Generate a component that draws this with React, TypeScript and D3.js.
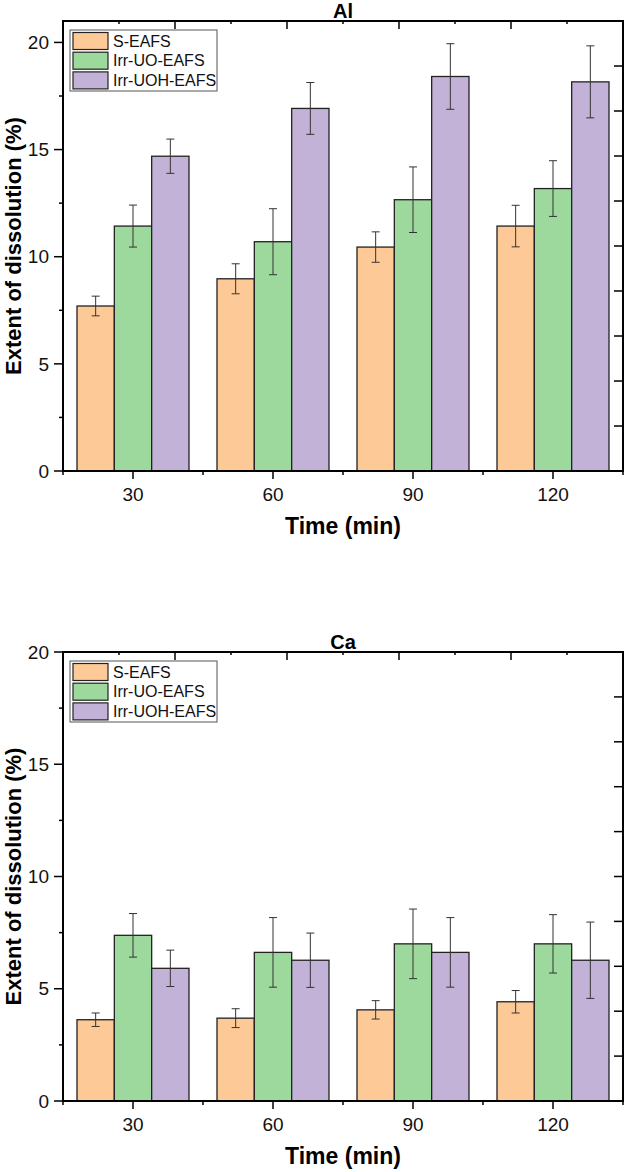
import { useEffect, useRef } from "react"
import * as d3 from "d3"

const times = ["30", "60", "90", "120"]
const seriesNames = ["S-EAFS", "Irr-UO-EAFS", "Irr-UOH-EAFS"]
const seriesColors = ["#fcc997", "#9dd89c", "#c2b2d7"]

// Al panel
const alS = [7.7, 8.97, 10.45, 11.43]
const alUO = [11.43, 10.7, 12.66, 13.18]
const alUOH = [14.69, 16.92, 18.41, 18.16]
const alSErr = [0.46, 0.7, 0.71, 0.97]
const alUOErr = [0.98, 1.54, 1.53, 1.3]
const alUOHErr = [0.8, 1.21, 1.53, 1.68]

// Ca panel
const caS = [3.62, 3.69, 4.06, 4.42]
const caUO = [7.38, 6.62, 7.0, 7.0]
const caUOH = [5.91, 6.27, 6.62, 6.27]
const caSErr = [0.3, 0.42, 0.41, 0.5]
const caUOErr = [0.97, 1.55, 1.55, 1.3]
const caUOHErr = [0.81, 1.21, 1.55, 1.7]

const majorY = [0, 5, 10, 15, 20]
const minorY = [2.5, 7.5, 12.5, 17.5]

const FONT = "Arial, 'Liberation Sans', sans-serif"

type Panel = {
  title: string
  top: number
  bottom: number
  yMax: number
  values: number[][]
  errors: number[][]
}

const panels: Panel[] = [
  { title: "Al", top: 21, bottom: 471, yMax: 21, values: [alS, alUO, alUOH], errors: [alSErr, alUOErr, alUOHErr] },
  { title: "Ca", top: 652, bottom: 1101, yMax: 20, values: [caS, caUO, caUOH], errors: [caSErr, caUOErr, caUOHErr] }
]

const left = 63
const right = 623

const App = () => {
  const svgRef = useRef<SVGSVGElement | null>(null)

  useEffect(() => {
    const svg = d3.select(svgRef.current)
    svg.selectAll("*").remove()

    panels.forEach(p => {
      const g = svg.append("g")
      const x = d3.scaleBand<string>().domain(times).range([left, right]).padding(0)
      const bw = x.bandwidth()
      const xi = d3.scaleBand<string>().domain(seriesNames).range([bw * 0.1, bw * 0.9]).padding(0)
      const y = d3.scaleLinear().domain([0, p.yMax]).range([p.bottom, p.top])

      // bars
      seriesNames.forEach((s, si) => {
        times.forEach((t, ti) => {
          const v = p.values[si][ti]
          g.append("rect")
            .attr("x", x(t)! + xi(s)!)
            .attr("y", y(v))
            .attr("width", xi.bandwidth())
            .attr("height", y(0) - y(v))
            .attr("fill", seriesColors[si])
            .attr("stroke", "#222")
            .attr("stroke-width", 1.3)
        })
      })

      // error bars
      seriesNames.forEach((s, si) => {
        times.forEach((t, ti) => {
          const v = p.values[si][ti]
          const e = p.errors[si][ti]
          const cx = x(t)! + xi(s)! + xi.bandwidth() / 2
          const eg = g.append("g").attr("stroke", "#333").attr("stroke-width", 1)
          eg.append("line").attr("x1", cx).attr("x2", cx).attr("y1", y(v + e)).attr("y2", y(v - e))
          eg.append("line").attr("x1", cx - 4).attr("x2", cx + 4).attr("y1", y(v + e)).attr("y2", y(v + e))
          eg.append("line").attr("x1", cx - 4).attr("x2", cx + 4).attr("y1", y(v - e)).attr("y2", y(v - e))
        })
      })

      const ax = g.append("g").attr("stroke", "#000")
      // left ticks
      majorY.forEach(v => {
        ax.append("line").attr("x1", left - 9).attr("x2", left).attr("y1", y(v)).attr("y2", y(v)).attr("stroke-width", 1.5)
      })
      minorY.forEach(v => {
        ax.append("line").attr("x1", left - 4).attr("x2", left).attr("y1", y(v)).attr("y2", y(v)).attr("stroke-width", 1.5)
      })
      // right ticks (inward)
      d3.range(1, 10).forEach(k => {
        const v = p.yMax * k / 10
        ax.append("line").attr("x1", right - 9).attr("x2", right).attr("y1", y(v)).attr("y2", y(v)).attr("stroke-width", 1.5)
      })
      // bottom ticks
      times.forEach(t => {
        const cx = x(t)! + bw / 2
        ax.append("line").attr("x1", cx).attr("x2", cx).attr("y1", p.bottom).attr("y2", p.bottom + 8).attr("stroke-width", 1.5)
      })
      times.concat([""]).forEach((t, i) => {
        const bx = left + i * bw
        ax.append("line").attr("x1", bx).attr("x2", bx).attr("y1", p.bottom).attr("y2", p.bottom + 4).attr("stroke-width", 1.5)
      })
      // top ticks (inward)
      d3.range(1, 10).forEach(k => {
        const tx = left + (right - left) * k / 10
        ax.append("line").attr("x1", tx).attr("x2", tx).attr("y1", p.top).attr("y2", p.top + (k % 2 === 0 ? 8 : 3)).attr("stroke-width", 1.5)
      })

      // frame
      g.append("rect")
        .attr("x", left).attr("y", p.top)
        .attr("width", right - left).attr("height", p.bottom - p.top)
        .attr("fill", "none").attr("stroke", "#000").attr("stroke-width", 2)

      // tick labels
      majorY.filter(v => v <= p.yMax).forEach(v => {
        g.append("text").attr("x", left - 14).attr("y", y(v)).attr("dy", "0.35em")
          .attr("text-anchor", "end").attr("font-family", FONT).attr("font-size", 19).attr("fill", "#111")
          .text(v)
      })
      times.forEach(t => {
        g.append("text").attr("x", x(t)! + bw / 2).attr("y", p.bottom + 30)
          .attr("text-anchor", "middle").attr("font-family", FONT).attr("font-size", 19).attr("fill", "#111")
          .text(t)
      })

      // axis titles
      g.append("text").attr("x", (left + right) / 2).attr("y", p.bottom + 63)
        .attr("text-anchor", "middle").attr("font-family", FONT).attr("font-size", 23).attr("font-weight", "bold")
        .text("Time (min)")
      g.append("text")
        .attr("transform", `translate(21,${(p.top + p.bottom) / 2}) rotate(-90)`)
        .attr("text-anchor", "middle").attr("font-family", FONT).attr("font-size", 22).attr("font-weight", "bold")
        .text("Extent of dissolution (%)")
      g.append("text").attr("x", (left + right) / 2).attr("y", p.top - 3)
        .attr("text-anchor", "middle").attr("font-family", FONT).attr("font-size", 20).attr("font-weight", "bold")
        .text(p.title)

      // legend
      const lg = g.append("g").attr("transform", `translate(${left + 7},${p.top + 9})`)
      lg.append("rect").attr("width", 147).attr("height", 61).attr("fill", "#fff").attr("stroke", "#555").attr("stroke-width", 1)
      seriesNames.forEach((s, si) => {
        lg.append("rect").attr("x", 3).attr("y", 2.5 + si * 19.7).attr("width", 35).attr("height", 17)
          .attr("fill", seriesColors[si]).attr("stroke", "#222").attr("stroke-width", 1.2)
        lg.append("text").attr("x", 43).attr("y", 11 + si * 19.7).attr("dy", "0.35em")
          .attr("font-family", FONT).attr("font-size", 16).attr("fill", "#111")
          .text(s)
      })
    })
  }, [])

  return <svg ref={svgRef} width={626} height={1172} style={{ position: "absolute", left: 0, top: 0, background: "#fff" }}></svg>
}

export default App
